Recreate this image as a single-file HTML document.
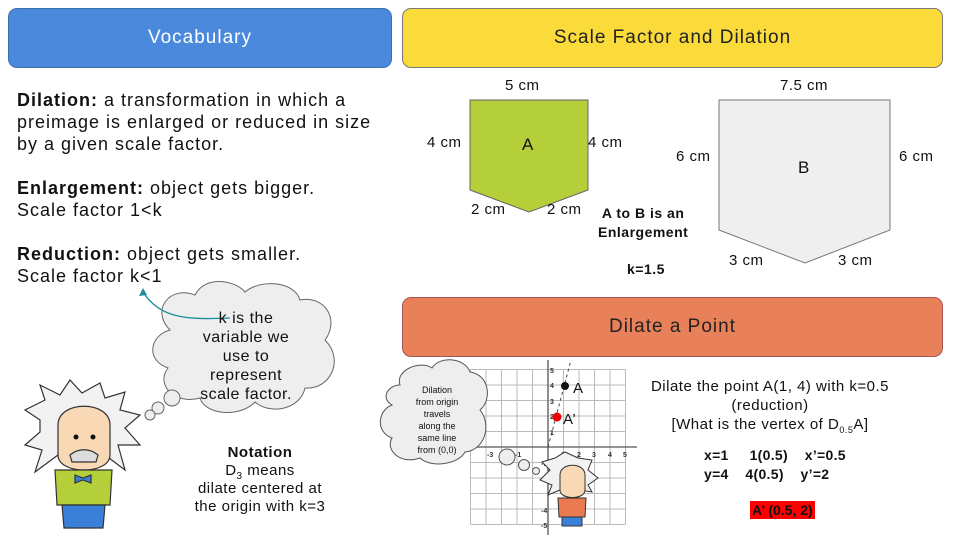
<!DOCTYPE html>
<html><head><meta charset="utf-8"><style>
*{margin:0;padding:0;box-sizing:border-box}
body{width:960px;height:540px;background:#fff;font-family:"Liberation Sans",sans-serif;position:relative;overflow:hidden;color:#111}
.hd{position:absolute;border-radius:9px;display:flex;align-items:center;justify-content:center;font-size:19px;border:1px solid #777;letter-spacing:1px}
.t{position:absolute;white-space:nowrap;letter-spacing:0.5px}
sub{line-height:0;vertical-align:-4px}
</style></head><body>
<div class="hd" style="left:8px;top:8px;width:384px;height:60px;background:#4a89dc;color:#fff;border-color:#3a6fb0">Vocabulary</div>
<div class="hd" style="left:402px;top:8px;width:541px;height:60px;background:#fbdb3a;color:#222">Scale Factor and Dilation</div>
<div class="hd" style="left:402px;top:297px;width:541px;height:60px;background:#e8805a;color:#222;border-color:#a55">Dilate a Point</div>

<div class="t" style="left:17px;top:89px;font-size:18px;line-height:22px;letter-spacing:1px"><b>Dilation:</b> a transformation in which a<br>preimage is enlarged or reduced in size<br>by a given scale factor.<br><br><b>Enlargement:</b> object gets bigger.<br>Scale factor 1&lt;k<br><br><b>Reduction:</b> object gets smaller.<br>Scale factor k&lt;1</div>

<svg style="position:absolute;left:0;top:0" width="960" height="540">
<polygon points="470,100 588,100 588,190 529,212 470,190" fill="#b5cf3a" stroke="#666"/>
<polygon points="719,100 890,100 890,230 805,263 719,230" fill="#efefef" stroke="#777"/>
<g fill="#eee" stroke="#666" stroke-width="1">
<path d="M170,330 C150,310 170,285 195,295 C205,275 235,280 245,292 C262,278 295,282 300,300 C325,295 340,320 325,340 C345,360 330,390 305,388 C300,410 270,415 255,402 C240,418 205,415 200,398 C175,405 155,385 168,368 C145,360 150,335 170,330 Z"/>
<circle cx="172" cy="398" r="8"/><circle cx="158" cy="408" r="6"/><circle cx="150" cy="415" r="5"/>
</g>
<path d="M230,318 C185,320 160,318 143,292" fill="none" stroke="#1a8f9a" stroke-width="1.3"/>
<polygon points="143,288 139,296 147,295" fill="#1a8f9a"/>
<g stroke="#bbb" stroke-width="1">
<line x1="470.5" y1="369.5" x2="470.5" y2="524.5"/><line x1="486" y1="369.5" x2="486" y2="524.5"/><line x1="501.5" y1="369.5" x2="501.5" y2="524.5"/><line x1="517" y1="369.5" x2="517" y2="524.5"/><line x1="532.5" y1="369.5" x2="532.5" y2="524.5"/><line x1="563.5" y1="369.5" x2="563.5" y2="524.5"/><line x1="579" y1="369.5" x2="579" y2="524.5"/><line x1="594.5" y1="369.5" x2="594.5" y2="524.5"/><line x1="610" y1="369.5" x2="610" y2="524.5"/><line x1="625.5" y1="369.5" x2="625.5" y2="524.5"/>
<line x1="470.5" y1="369.5" x2="625.5" y2="369.5"/><line x1="470.5" y1="385" x2="625.5" y2="385"/><line x1="470.5" y1="400.5" x2="625.5" y2="400.5"/><line x1="470.5" y1="416" x2="625.5" y2="416"/><line x1="470.5" y1="431.5" x2="625.5" y2="431.5"/><line x1="470.5" y1="462.5" x2="625.5" y2="462.5"/><line x1="470.5" y1="478" x2="625.5" y2="478"/><line x1="470.5" y1="493.5" x2="625.5" y2="493.5"/><line x1="470.5" y1="509" x2="625.5" y2="509"/><line x1="470.5" y1="524.5" x2="625.5" y2="524.5"/>
</g>
<line x1="548" y1="360" x2="548" y2="535" stroke="#555" stroke-width="1.3"/>
<line x1="465" y1="447" x2="637" y2="447" stroke="#555" stroke-width="1.3"/>
<line x1="548" y1="447" x2="571" y2="360" stroke="#444" stroke-dasharray="3,3"/>
<g font-size="7" fill="#333" font-weight="bold">
<text x="550" y="373">5</text><text x="550" y="388">4</text><text x="550" y="404">3</text><text x="550" y="419">2</text><text x="550" y="435">1</text>
<text x="561" y="457">1</text><text x="577" y="457">2</text><text x="592" y="457">3</text><text x="608" y="457">4</text><text x="623" y="457">5</text>
<text x="541" y="466">-1</text><text x="541" y="482">-2</text><text x="541" y="513">-4</text><text x="541" y="528">-5</text>
<text x="487" y="457">-3</text><text x="515" y="457">-1</text>
</g>
<circle cx="565" cy="386" r="4" fill="#111"/>
<circle cx="557" cy="417" r="4.5" fill="#e00"/>
<g fill="#eee" stroke="#555">
<path d="M400,385 C395,370 420,360 432,368 C440,355 465,358 470,372 C490,375 492,400 480,410 C492,425 485,450 465,452 C458,465 430,468 420,458 C400,465 385,450 392,438 C375,432 378,410 392,405 C380,398 388,385 400,385 Z"/>
<circle cx="507" cy="457" r="8"/><circle cx="524" cy="465" r="5.5"/><circle cx="536" cy="471" r="3.5"/>
</g>
<g stroke="#333" stroke-width="1.2">
<path d="M40,420 L25,410 L45,400 L40,385 L60,395 L70,380 L82,393 L100,383 L105,398 L125,392 L120,410 L140,415 L125,428 L140,445 L118,445 L125,470 L105,455 L58,455 L35,472 L42,450 L25,445 L40,432 Z" fill="#f2f2f2"/>
<path d="M58,425 C58,400 110,400 110,425 L110,455 C110,475 58,475 58,455 Z" fill="#f9d9b5"/>
<path d="M55,470 L112,470 L110,505 L57,505 Z" fill="#b5cf3a"/>
<path d="M62,505 L105,505 L103,528 L64,528 Z" fill="#3a7fd8"/>
<path d="M70,455 C78,448 90,448 98,455 L96,462 L72,462 Z" fill="#ddd"/>
<path d="M75,475 L83,478 L91,475 L91,483 L83,480 L75,483 Z" fill="#3a7fd8"/>
</g>
<circle cx="76" cy="437" r="2.5" fill="#111"/><circle cx="93" cy="437" r="2.5" fill="#111"/>
<g stroke="#333" stroke-width="1">
<path d="M550,470 L542,462 L555,458 L565,452 L578,458 L592,460 L588,470 L598,478 L588,485 L592,492 L580,490 L560,490 L548,495 L552,485 L540,480 Z" fill="#f2f2f2"/>
<path d="M560,475 C560,462 585,462 585,475 L585,490 C585,500 560,500 560,490 Z" fill="#f9d9b5"/>
<path d="M558,498 L586,498 L585,517 L559,517 Z" fill="#ea7a50"/>
<path d="M562,517 L582,517 L582,526 L562,526 Z" fill="#3a7fd8"/>
</g>
</svg>

<div class="t" style="left:505px;top:77px;font-size:15px">5 cm</div>
<div class="t" style="left:427px;top:134px;font-size:15px">4 cm</div>
<div class="t" style="left:588px;top:134px;font-size:15px">4 cm</div>
<div class="t" style="left:522px;top:135px;font-size:17px">A</div>
<div class="t" style="left:471px;top:201px;font-size:15px">2 cm</div>
<div class="t" style="left:547px;top:201px;font-size:15px">2 cm</div>
<div class="t" style="left:598px;top:204px;font-size:14px;font-weight:bold;text-align:center;line-height:19px">A to B is an<br>Enlargement</div>
<div class="t" style="left:627px;top:261px;font-size:14px;font-weight:bold">k=1.5</div>
<div class="t" style="left:780px;top:77px;font-size:15px">7.5 cm</div>
<div class="t" style="left:676px;top:148px;font-size:15px">6 cm</div>
<div class="t" style="left:899px;top:148px;font-size:15px">6 cm</div>
<div class="t" style="left:798px;top:158px;font-size:17px">B</div>
<div class="t" style="left:729px;top:252px;font-size:15px">3 cm</div>
<div class="t" style="left:838px;top:252px;font-size:15px">3 cm</div>

<div class="t" style="left:191px;top:309px;width:110px;font-size:16px;line-height:19px;text-align:center">k is the<br>variable we<br>use to<br>represent<br>scale factor.</div>
<div class="t" style="left:160px;top:444px;width:200px;font-size:15px;line-height:18px;text-align:center"><b>Notation</b><br>D<sub style="font-size:10px">3</sub> means<br>dilate centered at<br>the origin with k=3</div>

<div class="t" style="left:395px;top:384px;width:84px;font-size:9px;line-height:12px;text-align:center;letter-spacing:0">Dilation<br>from origin<br>travels<br>along the<br>same line<br>from (0,0)</div>
<div class="t" style="left:573px;top:380px;font-size:15px">A</div>
<div class="t" style="left:563px;top:411px;font-size:15px">A’</div>

<div class="t" style="left:630px;top:377px;width:280px;font-size:15px;line-height:19px;text-align:center">Dilate the point A(1, 4) with k=0.5<br>(reduction)<br>[What is the vertex of D<sub style="font-size:9px">0.5</sub>A]</div>
<div class="t" style="left:704px;top:446px;font-size:14px;font-weight:bold;line-height:19px;letter-spacing:0.3px">x=1&nbsp;&nbsp;&nbsp;&nbsp;&nbsp;1(0.5)&nbsp;&nbsp;&nbsp;&nbsp;x’=0.5<br>y=4&nbsp;&nbsp;&nbsp;&nbsp;4(0.5)&nbsp;&nbsp;&nbsp;&nbsp;y’=2</div>
<div class="t" style="left:750px;top:501px;font-size:14px;font-weight:bold;background:#f00;padding:1px 2px;letter-spacing:0">A’ (0.5, 2)</div>
</body></html>
